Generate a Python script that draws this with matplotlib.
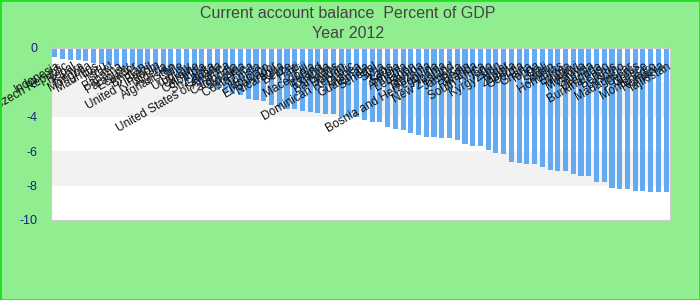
import matplotlib
matplotlib.use("Agg")
import matplotlib.pyplot as plt
import matplotlib.transforms as mtransforms
from matplotlib.patches import Rectangle

countries = [
    "Indonesia", "Czech Republic", "Nepal", "Kenya", "Mongolia",
    "Mauritius", "Peru", "Israel", "Panama", "Paraguay",
    "Ecuador", "Bhutan", "Brazil", "United Kingdom", "Algeria",
    "Afghanistan", "Chile", "Uruguay", "Ukraine", "Colombia",
    "Sri Lanka", "Canada", "United States of America", "Cambodia", "Slovakia",
    "Costa Rica", "Tunisia", "Morocco", "El Salvador", "Nicaragua",
    "Belize", "Haiti", "Fiji", "Macedonia", "Iceland",
    "Uganda", "Barbados", "Jordan", "Dominican Republic", "Guinea",
    "Guatemala", "Senegal", "Syria", "Laos", "Serbia",
    "Armenia", "Lebanon", "Samoa", "Tanzania", "Bosnia and Herzegovina",
    "Albania", "New Zealand", "Jamaica", "Benin", "Rwanda",
    "South Africa", "Togo", "Kyrgyzstan", "Niger", "Zambia",
    "Georgia", "Ghana", "Tonga", "Mali", "Sudan",
    "Honduras", "Eritrea", "Malawi", "Moldova", "Gambia",
    "Grenada", "Burkina Faso", "Belarus", "Lesotho", "Madagascar",
    "Cyprus", "Greece", "Montenegro", "Romania", "Tajikistan",
]

balance = [
    -0.52, -0.64, -0.70, -0.70, -0.78, -0.85, -0.95, -1.00, -1.05, -1.10,
    -1.15, -1.20, -1.30, -1.40, -1.50, -1.60, -1.75, -1.90, -2.05, -2.20,
    -2.35, -2.44, -2.62, -2.68, -2.76, -2.96, -3.00, -3.10, -3.30, -3.45,
    -3.55, -3.55, -3.65, -3.75, -3.80, -3.82, -3.86, -4.00, -4.00, -4.03,
    -4.19, -4.28, -4.28, -4.58, -4.73, -4.77, -4.96, -5.06, -5.16, -5.16,
    -5.25, -5.25, -5.35, -5.60, -5.70, -5.70, -5.91, -6.08, -6.14, -6.61,
    -6.67, -6.73, -6.73, -6.90, -7.08, -7.13, -7.13, -7.31, -7.42, -7.42,
    -7.77, -7.77, -8.12, -8.18, -8.18, -8.30, -8.30, -8.35, -8.35, -8.35,
]

y_ticks = [0, -2, -4, -6, -8, -10]

bg = "#90ee90"
fig = plt.figure(figsize=(7, 3), dpi=100, facecolor=bg)
ax = fig.add_axes([51 / 700, 80 / 300, 619 / 700, 172 / 300])
ax.set_facecolor("white")

# grey bands
for lo, hi in [(-4, -2), (-8, -6)]:
    ax.axhspan(lo, hi, color="#f2f2f2", lw=0, zorder=0)

x = list(range(len(balance)))
ax.bar(x, balance, width=0.66, color="#64aaf0", zorder=2)

ax.set_xlim(-0.5, len(balance) - 0.5)
ax.set_ylim(-10, 0)
ax.set_xticks([])
ax.set_yticks(y_ticks)
ax.set_yticklabels([str(t) for t in y_ticks], color="#1a1a8c",
                   fontsize=9, family="Liberation Sans")
ax.tick_params(axis="y", length=0, pad=10)
for sp in ax.spines.values():
    sp.set_color("#cccccc")

# country labels drawn inside the plot, rotated
trans = mtransforms.blended_transform_factory(ax.transData, ax.transAxes)
for i, name in enumerate(countries):
    ax.text(i + 0.2, 0.93, name, transform=trans, rotation=30,
            rotation_mode="anchor", ha="right", va="top",
            fontsize=8.5, family="Liberation Sans", color="#111111", zorder=3)

fig.text(0.497, 0.955, "Current account balance  Percent of GDP",
         ha="center", va="center", fontsize=11.5, color="#444444",
         family="Liberation Sans")
fig.text(0.497, 0.888, "Year 2012", ha="center", va="center",
         fontsize=11.5, color="#444444", family="Liberation Sans")

fig.patches.append(Rectangle((0, 0), 1, 1, transform=fig.transFigure,
                             fill=False, edgecolor="#22e022", lw=2))

fig.savefig("out.png", dpi=100, facecolor=bg)
